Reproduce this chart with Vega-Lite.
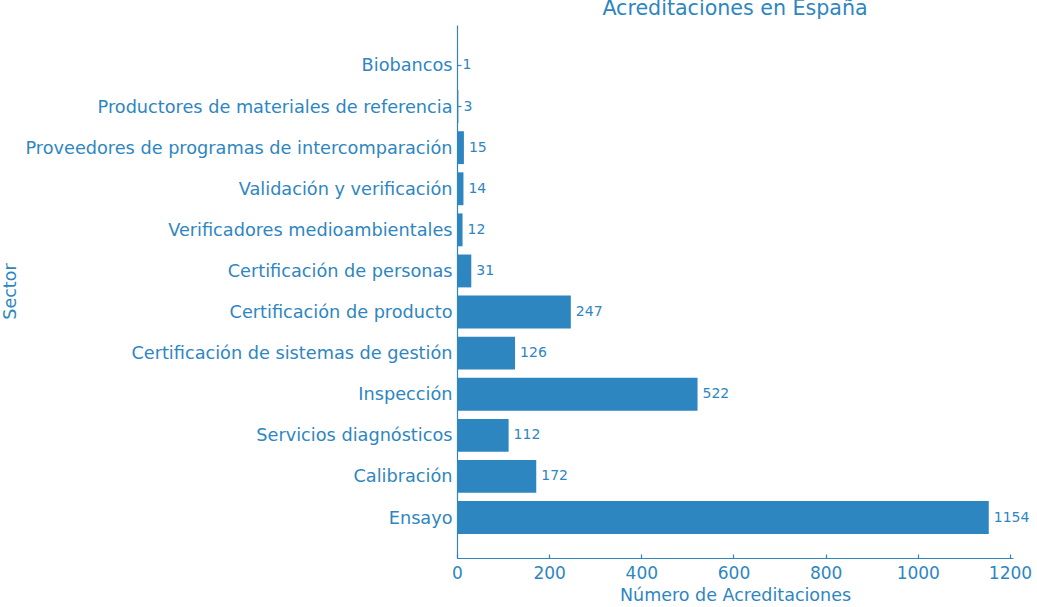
{
  "$schema": "https://vega.github.io/schema/vega-lite/v6.json",
  "width": 556,
  "height": 533,
  "autosize": {"type": "none"},
  "padding": {"left": 457, "top": 25, "right": 24, "bottom": 49},
  "background": "white",
  "config": {
    "font": "DejaVu Sans",
    "view": {"stroke": null},
    "axis": {
      "domainColor": "#2E86C1",
      "tickColor": "#2E86C1",
      "labelColor": "#2E86C1",
      "titleColor": "#2E86C1",
      "grid": false,
      "labelFont": "DejaVu Sans",
      "titleFont": "DejaVu Sans",
      "titleFontWeight": "normal",
      "domainWidth": 1.2,
      "tickWidth": 1.2
    }
  },
  "title": {
    "text": "Acreditaciones en España",
    "fontSize": 20.6,
    "fontWeight": "normal",
    "color": "#2E86C1",
    "anchor": "middle",
    "baseline": "alphabetic",
    "offset": -11
  },
  "data": {
    "values": [
      {"sector": "Biobancos", "n": 1},
      {"sector": "Productores de materiales de referencia", "n": 3},
      {"sector": "Proveedores de programas de intercomparación", "n": 15},
      {"sector": "Validación y verificación", "n": 14},
      {"sector": "Verificadores medioambientales", "n": 12},
      {"sector": "Certificación de personas", "n": 31},
      {"sector": "Certificación de producto", "n": 247},
      {"sector": "Certificación de sistemas de gestión", "n": 126},
      {"sector": "Inspección", "n": 522},
      {"sector": "Servicios diagnósticos", "n": 112},
      {"sector": "Calibración", "n": 172},
      {"sector": "Ensayo", "n": 1154}
    ]
  },
  "encoding": {
    "y": {
      "field": "sector",
      "type": "nominal",
      "sort": null,
      "title": "Sector",
      "scale": {"paddingInner": 0.2, "paddingOuter": 0.585},
      "axis": {
        "labelFontSize": 17.7,
        "titleFontSize": 17.5,
        "tickSize": -4,
        "labelPadding": 9,
        "labelOffset": 1,
        "titleX": -447,
        "titleY": 266,
        "titleAngle": -90,
        "titleAlign": "center",
        "titleBaseline": "middle",
        "labelLimit": 600
      }
    }
  },
  "layer": [
    {
      "mark": {"type": "bar", "color": "#2E86C1"},
      "encoding": {
        "x": {
          "field": "n",
          "type": "quantitative",
          "title": "Número de Acreditaciones",
          "scale": {"domain": [0, 1206.6], "nice": false, "zero": true},
          "axis": {
            "values": [0, 200, 400, 600, 800, 1000, 1200],
            "format": "d",
            "labelFlush": false,
            "labelFontSize": 17,
            "titleFontSize": 17.5,
            "tickSize": -4,
            "labelPadding": 11,
            "titlePadding": 5
          }
        }
      }
    },
    {
      "mark": {"type": "text", "align": "left", "baseline": "middle", "dx": 5, "fontSize": 14, "color": "#2E86C1"},
      "encoding": {
        "x": {"field": "n", "type": "quantitative"},
        "text": {"field": "n", "type": "quantitative"}
      }
    }
  ]
}
